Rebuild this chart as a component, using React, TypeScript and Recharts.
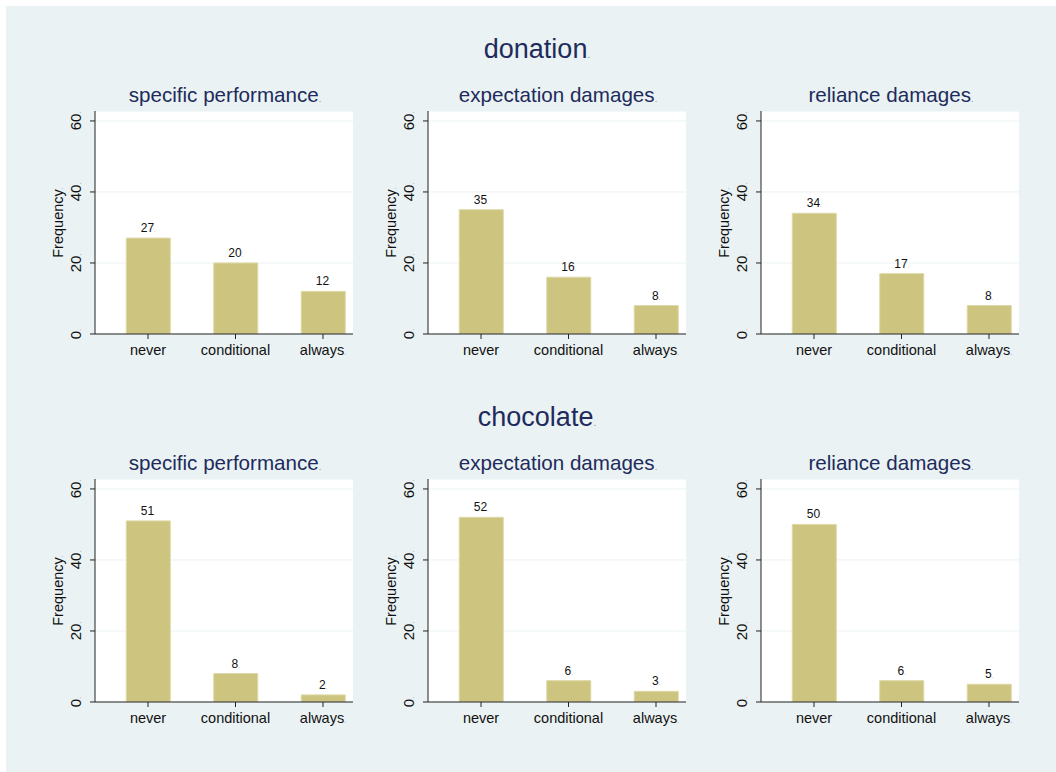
import React from 'react'
import {
  BarChart, Bar, XAxis, YAxis, CartesianGrid, LabelList,
} from 'recharts'

// categories and counts
const categories = ['never', 'conditional', 'always']
const groupTitles = ['donation', 'chocolate']
const panelTitles = ['specific performance', 'expectation damages', 'reliance damages']

const donationSpecific = [27, 20, 12]
const donationExpectation = [35, 16, 8]
const donationReliance = [34, 17, 8]
const chocolateSpecific = [51, 8, 2]
const chocolateExpectation = [52, 6, 3]
const chocolateReliance = [50, 6, 5]

const yTicks = [0, 20, 40, 60]

const rows = [
  [donationSpecific, donationExpectation, donationReliance],
  [chocolateSpecific, chocolateExpectation, chocolateReliance],
]

const FONT = '"Liberation Sans", Arial, sans-serif'
const BG = '#eaf2f3'
const NAVY = '#1e2b5c'
const BAR = '#cdc47f'
const DOT = '#8a8a8a'

const PLOT_W = 258
const PLOT_H = 223

function Dot({ size = 7 }: { size?: number }) {
  return <tspan fill={DOT} fontSize={size}>.</tspan>
}

function YTick(props: any) {
  const { x, y, payload } = props
  const bx = x - 7
  return (
    <text x={bx} y={y} transform={`rotate(-90 ${bx} ${y})`} textAnchor="middle"
      fontSize={15} fill="#111" fontFamily={FONT}>
      {payload.value}<Dot />
    </text>
  )
}

function XTick(props: any) {
  const { x, y, payload } = props
  const name = categories[payload.value - 1]
  const last = payload.value === categories.length
  return (
    <text x={x} y={y + 14} textAnchor="middle" fontSize={14.5} fill="#111" fontFamily={FONT}>
      {name}{last ? <Dot /> : null}
    </text>
  )
}

function FreqLabel(props: any) {
  const { viewBox } = props
  const bx = viewBox.x + 8
  const cy = viewBox.y + viewBox.height / 2
  return (
    <text x={bx} y={cy} transform={`rotate(-90 ${bx} ${cy})`} textAnchor="middle"
      fontSize={14.5} fill="#111" fontFamily={FONT}>
      Frequency<Dot />
    </text>
  )
}

function ValueLabel(props: any) {
  const { x, y, width, value } = props
  return (
    <text x={x + width / 2} y={y - 6} textAnchor="middle" fontSize={12} fill="#111" fontFamily={FONT}>
      {value}<Dot size={6} />
    </text>
  )
}

function Panel({ values, title, left, top }: { values: number[]; title: string; left: number; top: number }) {
  const data = categories.map((name, i) => ({ x: i + 1, name, v: values[i] }))
  return (
    <>
      <svg style={{ position: 'absolute', left, top: top - 30, overflow: 'visible' }} width={PLOT_W} height={30}>
        <text x={PLOT_W / 2 + 1} y={21} textAnchor="middle" fontSize={20.6} fill={NAVY} fontFamily={FONT}>
          {title}<Dot size={9} />
        </text>
      </svg>
      <div style={{ position: 'absolute', left: left - 50, top }}>
        <BarChart width={50 + PLOT_W + 2} height={PLOT_H + 30} data={data}
          margin={{ top: 0, right: 2, left: 10, bottom: 0 }}>
          <CartesianGrid vertical={false} stroke={BG} strokeWidth={1} fill="#fff" />
          <XAxis type="number" dataKey="x" domain={[0.394, 3.343]} ticks={[1, 2, 3]}
            allowDataOverflow interval={0} height={30} tickSize={5}
            axisLine={{ stroke: '#222' }} tickLine={{ stroke: '#222' }} tick={<XTick />} />
          <YAxis type="number" domain={[0, 62.8]} ticks={yTicks} allowDataOverflow
            width={40} tickSize={5} axisLine={{ stroke: '#222' }} tickLine={{ stroke: '#222' }}
            tick={<YTick />} label={<FreqLabel />} />
          <Bar dataKey="v" barSize={44} fill={BAR} stroke="#ddd8a6" strokeWidth={1} isAnimationActive={false}>
            <LabelList dataKey="v" content={<ValueLabel />} />
          </Bar>
        </BarChart>
      </div>
    </>
  )
}

export default function App() {
  return (
    <div style={{ position: 'relative', width: 1056, height: 772, background: '#fff', fontFamily: FONT, overflow: 'hidden' }}>
      <style>{'body{margin:0}'}</style>
      <div style={{ position: 'absolute', left: 6, top: 6, right: 0, bottom: 0, background: BG }} />
      {groupTitles.map((g, r) => (
        <svg key={g} style={{ position: 'absolute', left: 0, top: 22 + 368 * r, overflow: 'visible' }} width={1056} height={40}>
          <text x={537} y={36} textAnchor="middle" fontSize={27} fill={NAVY} fontFamily={FONT}>
            {g}<Dot size={10} />
          </text>
        </svg>
      ))}
      {rows.map((row, r) =>
        row.map((values, c) => (
          <Panel key={`${r}-${c}`} values={values} title={panelTitles[c]}
            left={95 + 333 * c} top={111 + 368 * r} />
        ))
      )}
    </div>
  )
}
